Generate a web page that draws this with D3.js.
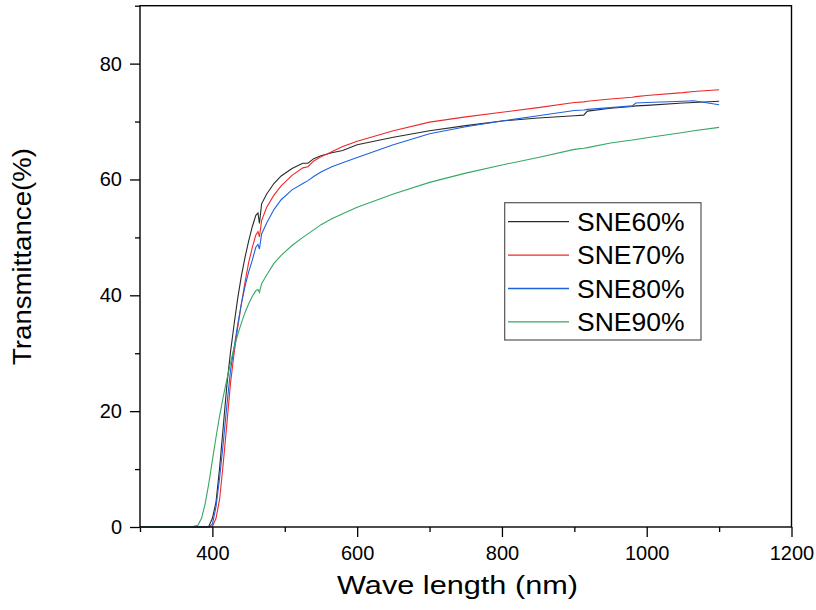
<!DOCTYPE html>
<html><head><meta charset="utf-8">
<script src="https://cdn.jsdelivr.net/npm/d3@7"></script>
<style>body{margin:0;background:#fff}svg{display:block}text{font-family:"Liberation Sans",Arial,sans-serif;fill:#000}</style>
</head><body>
<svg id="c" width="816" height="610"></svg>
<script>
const wavelength = [300,370,380,385,390,395,400,405,410,415,420,425,430,435,440,445,450,455,460,463,465,468,475,485,495,510,525,532,540,550,565,580,600,650,700,750,800,850,900,913,918,950,980,985,1000,1050,1065,1100];
const sne60 = [0,0,0,0,0,0.1,1.5,4.3,10.2,17.3,24.5,30.2,35,39.5,43.3,46.5,49.3,51.8,53.8,54.2,52.4,55.8,57.5,59.3,60.6,61.9,62.8,62.8,63.6,64.1,64.6,65.0,66.0,67.3,68.4,69.3,70.1,70.6,71.0,71.1,71.8,72.3,72.6,72.7,72.8,73.2,73.3,73.5];
const sne70 = [0,0,0,0,0,0,0.1,1.5,4.8,11,17.8,24.8,30,34.4,38.5,42.2,45.6,48.2,50.4,51,50.1,52.9,55.2,57.3,58.9,60.7,62.0,62.2,63.2,63.9,64.8,65.7,66.6,68.4,69.9,70.8,71.6,72.4,73.3,73.4,73.5,73.9,74.2,74.3,74.5,75.0,75.2,75.5];
const sne80 = [0,0,0,0,0,0,0.5,3.5,8.5,14.5,21,27,31,35,38.5,41.5,44,46,48.3,48.8,48.0,50.6,52.5,54.8,56.5,58.2,59.3,59.8,60.5,61.3,62.2,62.9,63.8,66.0,67.9,69.1,70.1,71.0,71.9,72.0,72.1,72.4,72.7,73.2,73.3,73.5,73.6,72.9];
const sne90 = [0,0,0.3,1.5,4,7.5,11.5,15.5,19.2,22.5,25.5,28.3,31,33.2,35.2,37,38.5,39.8,40.8,41,40.5,42,43.5,45.5,46.9,48.6,50.0,50.6,51.3,52.2,53.2,54.1,55.2,57.5,59.5,61.1,62.5,63.8,65.2,65.4,65.5,66.3,66.8,66.9,67.2,68.1,68.4,69.0];
const seriesNames = ["SNE60%","SNE70%","SNE80%","SNE90%"];
const seriesColors = ["#2a2a2a","#f02828","#1e62e0","#35a862"];
const xTicks = [400,600,800,1000,1200];
const xMinor = [300,500,700,900,1100];
const yTicks = [0,20,40,60,80];
const yMinor = [10,30,50,70,90];
const xTitle = "Wave length (nm)";
const yTitle = "Transmittance(%)";

const allSeries = [sne60,sne70,sne80,sne90];
const svg = d3.select("#c");
const L=140,R=791.5,T=5.7,B=527;
const x = d3.scaleLinear().domain([300,1200]).range([L,R]);
const y = d3.scaleLinear().domain([0,90]).range([B,T]);

const gx = svg.append("g").attr("transform",`translate(0,${B})`);
gx.call(d3.axisBottom(x).tickValues(xMinor).tickSize(5).tickFormat(""));
gx.append("g").call(d3.axisBottom(x).tickValues(xTicks).tickSize(10).tickPadding(9).tickFormat(d3.format("d")));
const gy = svg.append("g").attr("transform",`translate(${L},0)`);
gy.call(d3.axisLeft(y).tickValues(yMinor).tickSize(5).tickFormat(""));
gy.append("g").call(d3.axisLeft(y).tickValues(yTicks).tickSize(10).tickPadding(8).tickFormat(d3.format("d")));
svg.selectAll(".domain").remove();
svg.selectAll(".tick line").attr("stroke","#000").attr("stroke-width",1.3);
svg.selectAll(".tick text").attr("font-size",20).attr("font-family","Liberation Sans, Arial, sans-serif");

const line = d3.line().x((d,i)=>x(wavelength[i])).y(d=>y(d));
allSeries.forEach((s,k)=>{
  svg.append("path").datum(s).attr("d",line).attr("fill","none")
    .attr("stroke",seriesColors[k]).attr("stroke-width",1.1);
});

svg.append("rect").attr("x",L).attr("y",T).attr("width",R-L).attr("height",B-T)
  .attr("fill","none").attr("stroke","#000").attr("stroke-width",1.4);

svg.append("text").attr("x",457.5).attr("y",594).attr("text-anchor","middle")
  .attr("font-size",26).attr("textLength",241).attr("lengthAdjust","spacingAndGlyphs").text(xTitle);
svg.append("text").attr("transform",`translate(31,256.5) rotate(-90)`)
  .attr("text-anchor","middle").attr("font-size",26).attr("textLength",217).attr("lengthAdjust","spacingAndGlyphs").text(yTitle);

const lg = svg.append("g");
lg.append("rect").attr("x",504.7).attr("y",202.7).attr("width",196.3).attr("height",137.3)
  .attr("fill","#fff").attr("stroke","#555").attr("stroke-width",1.2);
seriesNames.forEach((n,k)=>{
  const yy = 221.7 + k*33.4;
  lg.append("line").attr("x1",508).attr("x2",569).attr("y1",yy).attr("y2",yy)
    .attr("stroke",seriesColors[k]).attr("stroke-width",1.3);
  lg.append("text").attr("x",577).attr("y",yy).attr("dy","0.35em").attr("font-size",26.5).text(n);
});
</script>
</body></html>
